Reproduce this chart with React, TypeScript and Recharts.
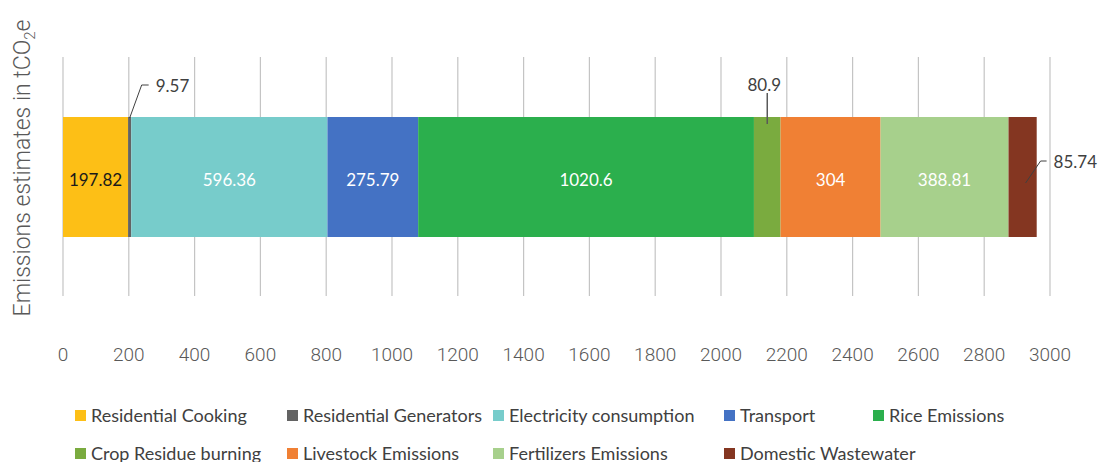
import { Bar, BarChart, CartesianGrid, XAxis, YAxis } from "recharts";

const sources = [
  "Residential Cooking",
  "Residential Generators",
  "Electricity consumption",
  "Transport",
  "Rice Emissions",
  "Crop Residue burning",
  "Livestock Emissions",
  "Fertilizers Emissions",
  "Domestic Wastewater",
];
const emissions = [197.82, 9.57, 596.36, 275.79, 1020.6, 80.9, 304, 388.81, 85.74];
const colors = [
  "#FDBF16",
  "#636363",
  "#77CCCB",
  "#4472C4",
  "#2BAF4D",
  "#7AAB3F",
  "#F08034",
  "#A7D08C",
  "#843621",
];
const xTicks = [0, 200, 400, 600, 800, 1000, 1200, 1400, 1600, 1800, 2000, 2200, 2400, 2600, 2800, 3000];

const row: Record<string, string | number> = { name: "total" };
sources.forEach((s, i) => (row[s] = emissions[i]));
const data = [row];

// labels that sit outside their segment, with a leader line
const callouts: Record<string, string> = {
  "Residential Generators": "upRight",
  "Crop Residue burning": "up",
  "Domestic Wastewater": "right",
};
const darkLabel = new Set(["Residential Cooking"]);

const LABEL_FONT = "Lato, 'Noto Sans', sans-serif";
const TICK_FONT = "Roboto, sans-serif";

function makeLabel(name: string, value: number) {
  return (props: any) => {
    const vb = props.viewBox ?? props;
    const x = Number(vb.x ?? props.x);
    const y = Number(vb.y ?? props.y);
    const w = Number(vb.width ?? props.width);
    const h = Number(vb.height ?? props.height);
    const text = String(value);
    const kind = callouts[name];
    const style = { fontFamily: LABEL_FONT, fontSize: 17, fill: "#404040" };
    if (kind === "upRight") {
      const x0 = x + w / 2;
      return (
        <g>
          <polyline
            points={`${x0},${y + 1} ${x0 + 12},${y - 32} ${x0 + 19},${y - 32}`}
            fill="none"
            stroke="#404040"
            strokeWidth={1}
          />
          <text x={x0 + 26} y={y - 32} dominantBaseline="central" {...style}>
            {text}
          </text>
        </g>
      );
    }
    if (kind === "up") {
      const x0 = x + w / 2;
      return (
        <g>
          <line x1={x0} y1={y + 7} x2={x0} y2={y - 24} stroke="#595959" strokeWidth={1.5} />
          <text x={x0 - 3} y={y - 33} textAnchor="middle" dominantBaseline="central" {...style}>
            {text}
          </text>
        </g>
      );
    }
    if (kind === "right") {
      const x0 = x + w / 2 + 3;
      const yc = y + h / 2 + 6;
      return (
        <g>
          <polyline
            points={`${x0},${yc} ${x0 + 15},${yc - 22} ${x0 + 21},${yc - 22}`}
            fill="none"
            stroke="#404040"
            strokeWidth={1}
          />
          <text x={x0 + 28} y={yc - 22} dominantBaseline="central" {...style}>
            {text}
          </text>
        </g>
      );
    }
    return (
      <text
        x={x + w / 2}
        y={y + h / 2 + 2}
        textAnchor="middle"
        dominantBaseline="central"
        fontFamily={LABEL_FONT}
        fontSize={17}
        fill={darkLabel.has(name) ? "#1a1a1a" : "#ffffff"}
      >
        {text}
      </text>
    );
  };
}

const YTitle = () => (
  <text
    transform="translate(30,168) rotate(-90)"
    textAnchor="middle"
    fontFamily={TICK_FONT}
    fontWeight={300}
    fontSize={23}
    fill="#595959"
  >
    Emissions estimates in tCO
    <tspan fontSize={15} dy={5}>
      2
    </tspan>
    <tspan dy={-5}>e</tspan>
  </text>
);

// legend columns (left edge of each marker) and row centres
const legendCols = [75, 287, 493, 724, 873];
const legendRows = [415, 453];

export default function App() {
  return (
    <div
      style={{
        position: "absolute",
        left: 0,
        top: 0,
        width: 1102,
        height: 462,
        background: "#ffffff",
      }}
    >
      <BarChart
        width={1102}
        height={462}
        data={data}
        layout="vertical"
        barSize={120}
        margin={{ top: 57, right: 52, bottom: 106, left: 0 }}
      >
        <CartesianGrid horizontal={false} stroke="#c4c4c4" strokeWidth={1.2} />
        <XAxis
          type="number"
          domain={[0, 3000]}
          ticks={xTicks}
          axisLine={false}
          tickLine={false}
          height={60}
          tickMargin={46}
          interval={0}
          tick={{ fontFamily: TICK_FONT, fontWeight: 300, fontSize: 19, fill: "#595959" }}
        />
        <YAxis
          type="category"
          dataKey="name"
          width={63}
          tick={false}
          axisLine={false}
          tickLine={false}
          label={{ content: () => <YTitle /> }}
        />
        {sources.map((s, i) => (
          <Bar
            key={s}
            dataKey={s}
            stackId="a"
            fill={colors[i]}
            isAnimationActive={false}
            label={makeLabel(s, emissions[i])}
          />
        ))}
      </BarChart>
      {sources.map((s, i) => {
        const r = i < 5 ? 0 : 1;
        const c = i < 5 ? i : i - 5;
        return (
          <div
            key={s}
            style={{
              position: "absolute",
              left: legendCols[c],
              top: legendRows[r] - 12,
              height: 24,
              display: "flex",
              alignItems: "center",
              fontFamily: LABEL_FONT,
              fontSize: 18,
              color: "#404040",
              whiteSpace: "nowrap",
            }}
          >
            <span
              style={{
                display: "inline-block",
                width: 11,
                height: 11,
                background: colors[i],
                marginRight: 5,
              }}
            />
            {s}
          </div>
        );
      })}
    </div>
  );
}
